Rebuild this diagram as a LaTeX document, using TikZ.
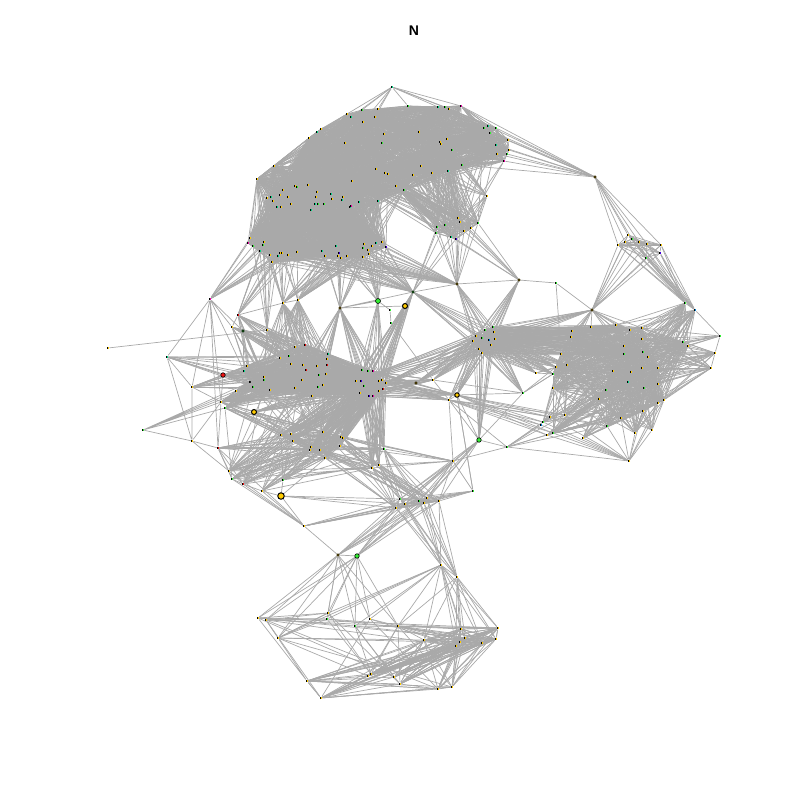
\documentclass[tikz,border=0pt]{standalone}
\usepackage{fontspec}
\setmainfont{Liberation Sans}
\usepackage{xcolor}
\usepackage{tikz}
\usetikzlibrary{backgrounds}

\definecolor{edgegrey}{HTML}{A9A9A9}
\definecolor{vy}{HTML}{FFCC00}
\definecolor{vg}{HTML}{33EE33}
\definecolor{vs}{HTML}{00DD88}
\definecolor{vm}{HTML}{EE00AA}
\definecolor{vr}{HTML}{EE1111}
\definecolor{vb}{HTML}{4400DD}
\definecolor{vc}{HTML}{0088DD}
\definecolor{vk}{HTML}{222222}

\tikzset{
  edge/.style={line width=0.7pt, edgegrey},
  vert/.style={rectangle, inner sep=0pt, minimum width=2.2pt, minimum height=2.8pt, fill=#1,
    path picture={\fill[black] (path picture bounding box.south west) rectangle (path picture bounding box.north);}},
  openv/.style={circle, draw=black, line width=0.6pt, inner sep=0pt, minimum size=2.6pt, fill=#1},
  bigv/.style={circle, draw=black, line width=1pt, inner sep=0pt, minimum size=#1, fill=vy}
}

% a numbered group of vertices
\newcommand{\vgroup}[2]{\foreach \x/\y/\col [count=\k] in {#2}{\node[vert=\col] (#1\k) at (\x,\y) {};}}
% links inside a group: group, size, keep one in
\newcommand{\linkin}[3]{\foreach \i in {1,...,#2}{\foreach \j in {1,...,#2}{%
  \ifnum\i<\j\relax
    \edef\hv{\the\numexpr\i*31+\j*17+\i*\j*7\relax}%
    \ifnum\numexpr\hv-(\hv/#3)*#3\relax=0 \draw[edge] (#1\i) -- (#1\j);\fi
  \fi}}}
% links between two ranges: group, from, to, group, from, to, keep one in
\newcommand{\linkacross}[7]{\foreach \i in {#2,...,#3}{\foreach \j in {#5,...,#6}{%
  \edef\hv{\the\numexpr\i*31+\j*17+\i*\j*7\relax}%
  \ifnum\numexpr\hv-(\hv/#7)*#7\relax=0 \draw[edge] (#1\i) -- (#4\j);\fi}}}
% one hub to a range of a group
\newcommand{\fan}[4]{\foreach \i in {#3,...,#4}{\draw[edge] (#1) -- (#2\i);}}

\begin{document}
\begin{tikzpicture}[x=1pt, y=-1pt]
  \useasboundingbox (0,0) rectangle (800,800);
  \node[font=\fontsize{14}{16}\selectfont\bfseries, inner sep=0pt] (title) at (414,31) {N};

  % top block
  \vgroup{ta}{248/243/vm,250/238/vy,253/246/vg,260/251/vs,263/245/vg,264/242/vy,270/255/vy,272/262/vy,278/256/vs,280/253/vy,
    282/253/vy,288/255/vy,297/252/vy,322/251/vs,325/256/vy,336/246/vs,339/253/vb,338/256/vy,341/258/vy,347/256/vy,
    363/248/vg,364/244/vy,363/257/vy,368/250/vy,369/254/vy,372/246/vy,376/243/vs,382/242/vy,386/247/vb,
    257/179/vy,274/166/vy,309/138/vy,317/132/vs,321/129/vy,267/198/vy,271/197/vs,273/201/vy,277/207/vs,280/195/vy,281/207/vy,
    283/190/vy,288/197/vy,291/204/vy,295/186/vy,297/187/vg,308/185/vy,311/210/vs,315/204/vs,316/197/vy,317/192/vy,
    318/204/vg,324/204/vg,331/194/vs,332/199/vy,342/200/vs,343/197/vy,350/207/vs,351/206/vm,359/202/vs,378/201/vs}
  \vgroup{tb}{347/114/vy,351/117/vs,362/110/vg,363/122/vy,375/117/vy,378/109/vy,345/143/vy,382/143/vg,384/134/vy,352/181/vy,
    376/169/vy,385/173/vy,388/174/vy,396/186/vy,404/190/vg,413/175/vy,421/166/vy,419/132/vy,432/173/vy,448/171/vs,
    440/142/vy,441/144/vy,447/139/vy,452/150/vg,408/106/vg,438/107/vs,445/107/vg,449/109/vy,461/106/vm}
  \vgroup{tc}{462/165/vg,484/128/vg,488/126/vs,490/133/vg,496/128/vg,496/145/vs,497/154/vy,504/161/vm,507/154/vg,508/140/vy,509/150/vy}
  \vgroup{td}{436/233/vg,437/227/vg,445/225/vg,451/237/vs,456/239/vb,458/218/vy,460/222/vy,464/231/vy,471/228/vy,478/223/vg,487/196/vy}
  \node[vert=vs] (crown) at (392,87) {};

  % hubs in the gap and around the middle
  \foreach \n/\x/\y/\col in {pa/210/299/vm,pb/238/315/vr,pc/283/303/vy,pd/298/300/vy,pg/390/310/vg,ph/391/323/vg,
    pm/556/283/vg,fr/108/348/vy,fs/167/357/vs,ft/232/327/vy,fu/267/330/vy,fv/192/387/vy,fw/244/371/vs,fx/247/366/vy,
    fy/221/402/vy,fz/225/408/vg,ga/236/391/vy,gb/143/430/vg,gc/192/441/vy,gd/262/491/vy,ge/283/480/vg,gf/304/526/vy,
    ma/433/380/vy,mb/449/400/vy,mc/507/447/vg,md/453/461/vy,me/473/491/vg,mf/536/373/vy,mg/523/393/vg,
    mh/372/468/vy,mi/379/465/vy,mj/384/449/vg,qa/685/303/vg,qb/695/310/vc,qc/720/336/vg,qd/715/353/vy,qe/711/368/vy,qf/629/461/vy,
    lf/441/565/vy,lg/457/577/vy}{\node[vert=\col] (\n) at (\x,\y) {};}
  \foreach \n/\x/\y/\col in {ff/243/331/vg,pe/340/308/vy,pj/413/292/vg,pk/457/284/vy,pl/519/280/vy,pn/592/310/vy,mk/416/383/vy,
    cap/595/177/vy,la/338/555/vy}{\node[openv=\col] (\n) at (\x,\y) {};}
  \node[openv=vr, minimum size=4.5pt] (hr) at (223,375) {};
  \node[openv=vg, minimum size=5pt] (pf) at (378,301) {};
  \node[bigv=5pt] (pi) at (405,306) {};
  \node[bigv=5pt] (hy) at (254,412) {};
  \node[bigv=6.5pt] (hz) at (281,496) {};
  \node[bigv=4.5pt] (ml) at (457,395) {};
  \node[openv=vg, minimum size=4.5pt] (mm) at (479,440) {};
  \node[openv=vg, minimum size=4.5pt] (lb) at (357,556) {};

  % middle blocks
  \vgroup{ma}{250/382/vk,253/387/vg,264/377/vy,264/380/vg,270/390/vy,280/358/vy,289/356/vg,291/364/vy,295/347/vy,305/345/vr,
    303/365/vy,306/370/vr,317/366/vy,327/365/vr,327/359/vy,328/354/vs,319/375/vg,326/374/vy,302/380/vy,295/388/vy,318/387/vg,323/385/vy,312/396/vy}
  \vgroup{mb}{362/370/vg,368/371/vg,373/371/vm,356/381/vy,361/381/vb,364/386/vg,379/381/vy,382/380/vy,386/383/vy,383/389/vr,379/391/vy,360/393/vy,369/396/vb,373/396/vm}
  \vgroup{mc}{281/435/vy,291/434/vy,293/441/vy,323/432/vy,341/437/vy,343/438/vy,340/446/vy,311/447/vy,310/450/vy,320/450/vy,325/458/vy}
  \vgroup{fl}{218/448/vr,229/471/vy,232/479/vg,243/484/vr}
  \vgroup{md}{473/341/vy,476/336/vy,479/349/vy,482/338/vg,482/353/vy,485/330/vg,489/340/vc,491/345/vy,493/327/vg,494/332/vy,495/339/vy}
  \vgroup{me}{572/331/vy,571/337/vy,591/327/vy,561/354/vy,556/367/vy,567/365/vy,553/374/vg,616/325/vy,630/330/vy,642/328/vy,
    642/339/vy,624/346/vy,624/354/vg,643/352/vg,648/357/vy,683/342/vg,688/346/vy,553/388/vy,613/371/vy,631/372/vy,
    642/368/vy,658/368/vy,628/382/vs,644/388/vg,658/384/vy,606/390/vg,599/399/vy,658/403/vy,664/400/vy,643/411/vy,
    621/418/vy,565/415/vy,550/417/vy,543/422/vg,541/425/vc,607/426/vg,547/435/vy,553/433/vg,583/438/vy,635/433/vy,652/430/vy}
  \vgroup{ur}{618/245/vy,625/242/vy,628/235/vy,632/239/vg,639/242/vy,647/244/vy,661/245/vy,660/253/vb,646/258/vg}

  % bottom blocks
  \vgroup{bc}{400/499/vg,396/508/vy,405/504/vy,419/501/vg,424/503/vy,427/498/vy,439/501/vy}
  \vgroup{bl}{258/618/vy,266/620/vy,278/638/vy,328/613/vy,327/619/vg,355/626/vg,370/619/vy,398/626/vy,424/640/vy,461/629/vy,
    465/638/vy,460/642/vy,456/646/vy,482/643/vy,496/639/vy,498/628/vy,307/681/vy,321/698/vy,368/676/vy,371/674/vy,
    394/677/vy,400/684/vy,438/689/vy,452/687/vy}

  \begin{scope}[on background layer]
    % top block
    \linkin{ta}{60}{1}
    \linkin{tb}{29}{1}
    \linkin{tc}{11}{1}
    \linkin{td}{10}{1}
    \linkacross{ta}{30}{60}{tb}{1}{15}{1}
    \linkacross{ta}{1}{29}{tb}{1}{15}{3}
    \linkacross{ta}{30}{60}{tb}{16}{29}{2}
    \linkacross{tb}{1}{29}{tc}{1}{11}{1}
    \linkacross{tb}{10}{24}{td}{1}{10}{1}
    \linkacross{tc}{1}{8}{td}{3}{10}{4}
    \fan{td11}{tb}{16}{24}
    \fan{td11}{tc}{1}{1}
    \fan{td11}{td}{6}{10}
    \fan{crown}{tb}{1}{6}
    \fan{crown}{tb}{25}{29}
    \draw[edge] (tb29) -- (cap);
    \fan{cap}{tc}{1}{11}
    \fan{cap}{ur}{1}{7}
    \linkin{ur}{9}{1}
    \fan{qa}{ur}{1}{9}
    \fan{qb}{ur}{1}{9}
    \fan{pn}{ur}{1}{9}
    \draw[edge] (ur8) -- (qa);

    % hubs under the top block
    \fan{pa}{ta}{1}{13}
    \fan{pb}{ta}{4}{13}
    \fan{pc}{ta}{5}{22}
    \fan{pd}{ta}{10}{28}
    \fan{pe}{ta}{14}{25}
    \fan{pf}{ta}{18}{29}
    \fan{pj}{td}{1}{5}
    \fan{pk}{ta}{7}{29}
    \fan{pk}{td}{1}{10}
    \fan{pl}{td}{4}{10}
    \fan{pj}{ta}{7}{29}
    \fan{fu}{ta}{3}{9}
    \draw[edge] (pe) -- (pf) (pf) -- (pg) (pg) -- (ph) (pe) -- (pi) (pi) -- (pj) (pj) -- (pk) (pj) -- (pe)
      (pl) -- (pm) (pm) -- (pn) (pm) -- (me4) (ph) -- (ma) (pc) -- (pd) (pb) -- (ft) (pb) -- (ff) (pb) -- (pc) (pk) -- (pl);

    % middle left block
    \linkin{ma}{23}{1}
    \linkacross{ma}{1}{23}{mb}{1}{14}{1}
    \linkin{mb}{14}{1}
    \linkin{mc}{11}{1}
    \linkacross{mc}{1}{11}{mb}{1}{14}{1}
    \linkacross{mc}{1}{11}{ma}{1}{23}{4}
    \fan{pb}{ma}{1}{16}
    \fan{pc}{ma}{1}{23}
    \fan{pd}{ma}{1}{23}
    \fan{pe}{ma}{11}{23}
    \fan{pe}{mb}{1}{14}
    \fan{pf}{mb}{4}{14}
    \fan{pi}{mb}{1}{14}
    \fan{pj}{mb}{1}{14}
    \fan{ft}{ma}{1}{16}
    \fan{ff}{ma}{1}{12}
    \fan{fu}{ma}{3}{20}
    \fan{fs}{ma}{1}{8}
    \fan{fv}{ma}{1}{12}
    \fan{hr}{ma}{1}{23}
    \fan{ga}{ma}{1}{23}
    \fan{fw}{ma}{1}{23}
    \fan{fx}{ma}{1}{23}
    \fan{fy}{ma}{1}{23}
    \fan{fz}{ma}{1}{23}
    \fan{fy}{mb}{1}{14}
    \fan{ga}{mb}{1}{14}
    \fan{hy}{mb}{1}{14}
    \fan{mh}{mb}{1}{14}
    \fan{mi}{mb}{1}{14}
    \fan{mj}{mb}{1}{14}
    \fan{mk}{mb}{1}{14}
    \fan{ma}{mb}{1}{14}
    \fan{ml}{mb}{1}{14}
    \fan{mb}{mb}{1}{14}
    \draw[edge] (fr) -- (fu) (pa) -- (ft) (pa) -- (ff) (pa) -- (fs) (pa) -- (fv) (pa) -- (fy) (pa) -- (fl1) (pa) -- (fw)
      (fs) -- (fv) (fs) -- (gc) (fs) -- (hr) (fs) -- (fx) (fv) -- (gc) (fv) -- (fw) (fv) -- (hr) (fv) -- (fy) (ff) -- (fw) (ff) -- (ft) (hr) -- (fy)
      (gb) -- (fy) (gb) -- (fz) (gb) -- (ga) (gb) -- (ma1) (gb) -- (ma2) (gb) -- (gc) (gc) -- (fy) (gc) -- (fl1) (gc) -- (fl2) (fy) -- (fl1) (fz) -- (fl3);

    % lower left fans
    \linkacross{fl}{1}{4}{mc}{1}{11}{1}
    \linkacross{fl}{1}{4}{ma}{1}{23}{4}
    \linkacross{fl}{1}{4}{mb}{1}{14}{3}
    \linkin{fl}{4}{1}
    \fan{hy}{mc}{4}{11}
    \fan{fy}{mc}{4}{11}
    \fan{fz}{mc}{4}{11}
    \fan{gd}{mc}{1}{11}
    \fan{ge}{mc}{1}{11}
    \fan{gf}{fl}{1}{4}
    \draw[edge] (hz) -- (gf) (hz) -- (ge) (hz) -- (mc7) (gd) -- (gf) (gf) -- (la) (la) -- (lb) (fl4) -- (gd) (gd) -- (hz)
      (fl1) -- (mj) (fl2) -- (mh) (fl3) -- (mh) (fl4) -- (mi) (gd) -- (mh) (ge) -- (mj) (ge) -- (mi);

    % middle right links
    \linkin{md}{11}{1}
    \linkin{me}{31}{1}
    \linkacross{me}{1}{31}{me}{32}{41}{2}
    \linkacross{me}{19}{31}{me}{36}{41}{1}
    \linkacross{md}{1}{11}{me}{1}{15}{1}
    \fan{pj}{md}{1}{11}
    \fan{pk}{md}{1}{11}
    \fan{pl}{md}{1}{11}
    \fan{pn}{md}{1}{11}
    \fan{pn}{me}{1}{15}
    \fan{mk}{md}{1}{11}
    \fan{ma}{md}{1}{11}
    \fan{ml}{md}{1}{11}
    \fan{mb}{md}{1}{5}
    \fan{mm}{md}{1}{11}
    \fan{mf}{md}{1}{11}
    \fan{mg}{md}{1}{11}
    \fan{mb4}{md}{1}{11}
    \fan{mb9}{md}{1}{11}
    \fan{qa}{me}{8}{31}
    \fan{qb}{me}{8}{31}
    \fan{qc}{me}{10}{17}
    \fan{qd}{me}{10}{29}
    \fan{qe}{me}{8}{31}
    \fan{qf}{me}{28}{41}
    \fan{mc}{me}{32}{38}
    \fan{mf}{me}{5}{7}
    \fan{mg}{me}{5}{7}
    \fan{ml}{me}{32}{38}
    \fan{mb}{me}{32}{38}
    \draw[edge] (qa) -- (qb) (qb) -- (qc) (qc) -- (qd) (qd) -- (qe) (mc) -- (qf) (mc) -- (md) (mm) -- (mg) (mm) -- (mb) (mm) -- (ml)
      (mb) -- (md) (mb) -- (mc) (ma) -- (mg) (ma) -- (mk) (ml) -- (mb) (ml) -- (me) (mm) -- (mc) (ml) -- (mg) (ma) -- (mb);

    % centre down to the neck
    \fan{mh}{mc}{4}{11}
    \fan{mi}{mc}{4}{11}
    \fan{mj}{mc}{4}{11}
    \fan{md}{mc}{4}{7}
    \draw[edge] (mj) -- (md) (mi) -- (md) (mh) -- (md) (mj) -- (mh);
    \linkin{bc}{7}{1}
    \fan{mh}{bc}{1}{7}
    \fan{mi}{bc}{1}{7}
    \fan{mj}{bc}{1}{7}
    \fan{mm}{bc}{1}{7}
    \fan{me}{bc}{1}{7}
    \fan{gf}{bc}{1}{7}
    \fan{la}{bc}{1}{7}
    \fan{lb}{bc}{1}{7}
    \fan{lf}{bc}{1}{7}
    \fan{lg}{bc}{1}{7}
    \fan{hz}{bc}{1}{3}
    \fan{md}{bc}{1}{7}
    \linkacross{bc}{1}{7}{mc}{1}{11}{2}
    \draw[edge] (me) -- (ml) (me) -- (md);

    % bottom block
    \linkin{bl}{24}{5}
    \linkacross{bl}{9}{16}{bl}{9}{16}{1}
    \linkacross{bl}{9}{16}{bl}{17}{24}{1}
    \linkacross{bl}{1}{3}{bl}{4}{5}{1}
    \linkacross{bl}{17}{18}{bl}{19}{24}{1}
    \linkacross{bl}{19}{22}{bl}{9}{16}{1}
    \linkacross{bl}{4}{8}{bl}{19}{22}{2}
    \fan{bl8}{bl}{10}{16}
    \fan{la}{bl}{1}{8}
    \fan{lb}{bl}{1}{8}
    \fan{lf}{bl}{3}{16}
    \fan{lg}{bl}{8}{16}
    \draw[edge] (bl1) -- (bl17) (bl3) -- (bl17) (bl17) -- (bl18) (lf) -- (lg);
  \end{scope}
\end{tikzpicture}
\end{document}
